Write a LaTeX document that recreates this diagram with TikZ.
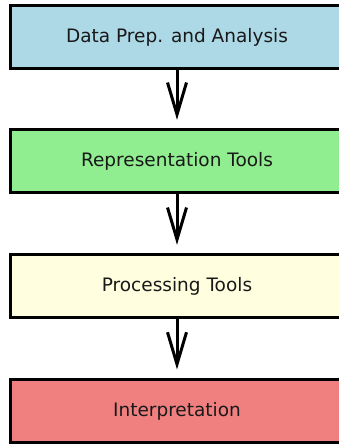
\documentclass[tikz,border=0pt]{standalone}
\usepackage{fontspec}
\setmainfont{DejaVu Sans}
\usetikzlibrary{arrows.meta}
\definecolor{boxblue}{HTML}{ADD8E6}
\definecolor{boxgreen}{HTML}{90EE90}
\definecolor{boxyellow}{HTML}{FFFFE0}
\definecolor{boxred}{HTML}{F08080}
\tikzset{
  stage/.style={draw=black, line width=3pt, minimum width=333pt, minimum height=63pt,
    inner sep=0pt, font=\fontsize{18.5}{22}\selectfont, text=black!90},
  flow/.style={line width=3pt, -{Straight Barb[length=32pt, width=19pt, line width=3pt]},
    shorten >=8.5pt}
}
\begin{document}
\begin{tikzpicture}[x=1pt, y=1pt]
  \useasboundingbox (0,0) rectangle (339,444);
  \node[stage, fill=boxblue]   (prep) at (177,407)   {Data Prep. and Analysis};
  \node[stage, fill=boxgreen]  (repr) at (177,282.7) {Representation Tools};
  \node[stage, fill=boxyellow] (proc) at (177,157.7) {Processing Tools};
  \node[stage, fill=boxred]    (intp) at (177,33)    {Interpretation};
  \draw[flow] (prep.south) -- (repr.north);
  \draw[flow] (repr.south) -- (proc.north);
  \draw[flow] (proc.south) -- (intp.north);
\end{tikzpicture}
\end{document}
